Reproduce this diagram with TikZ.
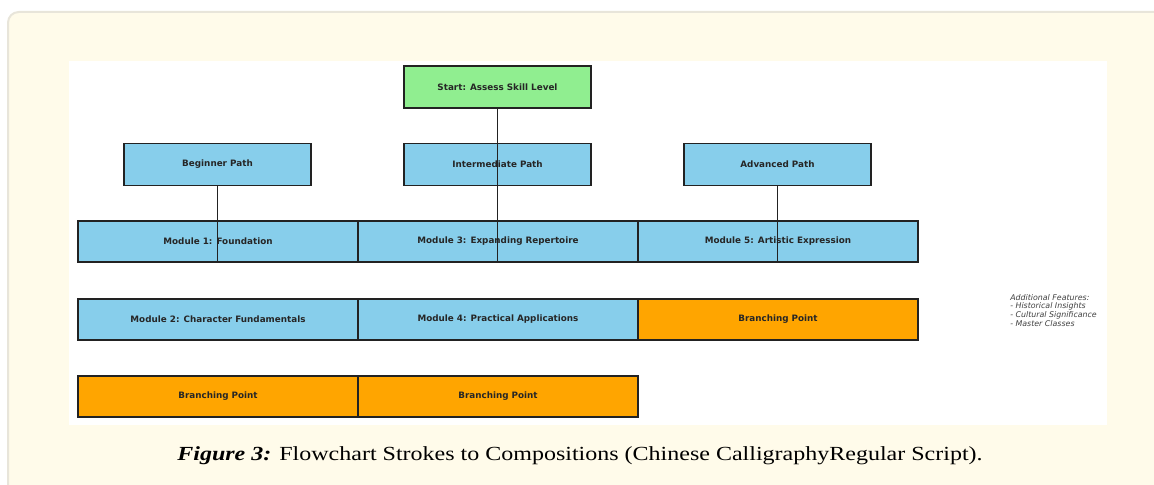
\documentclass[tikz,border=0pt]{standalone}
\usepackage{fontspec}
\setmainfont{Liberation Serif}
\newfontfamily\boxfont{DejaVu Sans}
\definecolor{panelfill}{HTML}{FFFBEA}
\definecolor{panelline}{HTML}{E8E5DA}
\definecolor{skyb}{HTML}{87CEEB}
\definecolor{orng}{HTML}{FFA500}
\definecolor{lgreen}{HTML}{90EE90}
\definecolor{edge}{HTML}{222222}
\tikzset{
  box/.style={draw=edge, line width=1.2pt, inner sep=0pt, outer sep=0pt, font=\boxfont\bfseries\fontsize{6.6}{7}\selectfont, text=black!85},
  pathbox/.style={box, fill=skyb, minimum width=140.25pt, minimum height=31.5pt},
  startbox/.style={pathbox, fill=lgreen},
  modbox/.style={box, fill=skyb, minimum width=210pt, minimum height=30.75pt},
  branchbox/.style={modbox, fill=orng},
  link/.style={draw=edge, line width=1pt}
}
\begin{document}
\begin{tikzpicture}[x=0.75pt, y=-0.75pt]
\useasboundingbox (0,0) rectangle (1154,485);
% panel
\draw[panelline, fill=panelfill, line width=1.5pt, rounded corners=8pt] (8,12) rectangle (1175,505);
\fill[white] (69,61) rectangle (1107,425);
% nodes
\node[startbox] (start) at (497.5,87) {Start: Assess Skill Level};
\node[pathbox] (beg) at (217.5,164.5) {Beginner Path};
\node[pathbox] (int) at (497.5,164.5) {Intermediate Path};
\node[pathbox] (adv) at (777.5,164.5) {Advanced Path};
\node[modbox] (m1) at (218,241.5) {Module 1: Foundation};
\node[modbox] (m3) at (498,241.5) {Module 3: Expanding Repertoire};
\node[modbox] (m5) at (778,241.5) {Module 5: Artistic Expression};
\node[modbox] (m2) at (218,319.5) {Module 2: Character Fundamentals};
\node[modbox] (m4) at (498,319.5) {Module 4: Practical Applications};
\node[branchbox] (b3) at (778,319.5) {Branching Point};
\node[branchbox] (b1) at (218,396.5) {Branching Point};
\node[branchbox] (b2) at (498,396.5) {Branching Point};
% connectors
\draw[link] (beg.south) -- (beg.south |- m1.south);
\draw[link] (start.south) -- (start.south |- m3.south);
\draw[link] (adv.south) -- (adv.south |- m5.south);
% side note
\node[anchor=north west, align=left, inner sep=0pt, font=\boxfont\itshape\fontsize{5.9}{6.5}\selectfont, text=black!75] (feat) at (1010,294) {Additional Features:\\- Historical Insights\\- Cultural Significance\\- Master Classes};
% caption
\node[font=\fontsize{15}{18}\selectfont, inner sep=0pt] (cap) at (580,456) {\scalebox{1.2}[1]{\textbf{\textit{Figure 3:}} Flowchart Strokes to Compositions (Chinese CalligraphyRegular Script).}};
\end{tikzpicture}
\end{document}
